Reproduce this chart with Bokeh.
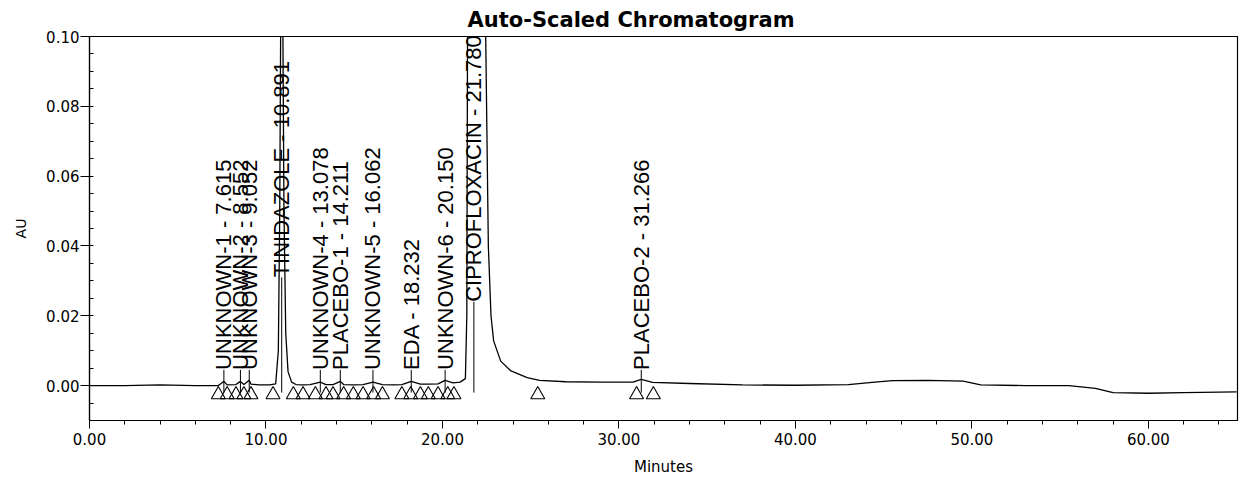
import math
from bokeh.plotting import figure
from bokeh.models import Range1d, FixedTicker, NumeralTickFormatter, ColumnDataSource
from bokeh.core.properties import value
from bokeh.embed import file_html
from bokeh.resources import INLINE

# ---- data ----
title_text = "Auto-Scaled Chromatogram"
x_label = "Minutes"
y_label = "AU"

x_ticks = [0, 10, 20, 30, 40, 50, 60]
y_ticks = [0.0, 0.02, 0.04, 0.06, 0.08, 0.10]

# chromatogram trace (minutes, AU); off-scale peaks exceed 0.10 and are clipped
trace_t = [0.0, 2.0, 4.0, 6.0, 7.3, 7.615, 7.8, 8.3, 8.552, 8.75, 9.052, 9.15, 9.6, 10.2,
           10.55, 10.7, 10.78, 10.83, 10.891, 10.96, 11.02, 11.12, 11.25, 11.45, 11.7,
           12.1, 12.5, 13.078, 13.4, 13.8, 14.211, 14.4, 15.0, 15.5, 16.062, 16.6, 17.2,
           17.7, 18.232, 18.75, 19.2, 19.75, 20.15, 20.6, 21.0, 21.3, 21.38, 21.42, 21.5,
           21.78, 22.2, 22.45, 22.6, 22.75, 22.9, 23.3, 23.85, 24.8, 25.5, 27.0, 29.0,
           30.8, 31.266, 31.9, 34.0, 37.0, 40.0, 43.0, 44.5, 45.5, 47.5, 49.5, 50.5,
           53.0, 55.5, 57.0, 58.0, 60.0, 62.0, 65.0]
trace_au = [0.0, 0.0, 0.0002, 0.0, 0.0, 0.0012, 0.0002, 0.0003, 0.0012, 0.0003, 0.0015,
            0.0004, 0.0002, 0.0002, 0.0005, 0.01, 0.05, 0.1, 0.3, 0.1, 0.05, 0.015, 0.004,
            0.001, 0.0003, 0.0002, 0.0003, 0.001, 0.0003, 0.0003, 0.0012, 0.0003, 0.0002,
            0.0003, 0.001, 0.0003, 0.0002, 0.0003, 0.0012, 0.0004, 0.0004, 0.0005, 0.0015,
            0.0008, 0.001, 0.002, 0.02, 0.1, 0.2, 0.4, 0.2, 0.1, 0.04, 0.02, 0.0128, 0.007,
            0.0043, 0.0023, 0.0015, 0.0011, 0.001, 0.001, 0.0018, 0.0009, 0.0006, 0.0002,
            0.0001, 0.0003, 0.001, 0.0014, 0.0015, 0.0013, 0.0002, 0.0, 0.0, -0.0008,
            -0.002, -0.0022, -0.002, -0.0018]

peak_names = ["UNKNOWN-1", "UNKNOWN-2", "UNKNOWN-3", "TINIDAZOLE", "UNKNOWN-4",
              "PLACEBO-1", "UNKNOWN-5", "EDA", "UNKNOWN-6", "CIPROFLOXACIN", "PLACEBO-2"]
peak_rt = [7.615, 8.552, 9.052, 10.891, 13.078, 14.211, 16.062, 18.232, 20.150, 21.780, 31.266]

# integration start / end markers (minutes)
marker_t = [7.3, 7.8, 8.3, 8.75, 9.15, 10.4, 11.55, 12.1, 12.8, 13.4, 13.8, 14.4, 14.95,
            15.5, 16.1, 16.6, 17.7, 18.2, 18.75, 19.2, 19.75, 20.3, 20.65, 25.4, 31.0, 31.95]

# ---- figure ----
p = figure(width=1239, height=481, x_range=Range1d(0, 65.05), y_range=Range1d(-0.01, 0.10),
           output_backend="svg", toolbar_location=None,
           min_border_left=89, min_border_right=2, min_border_top=34, min_border_bottom=61)

p.title.text = title_text
p.title.text_font = "DejaVu Sans"
p.title.text_font_size = "21px"
p.title.text_font_style = "bold"
p.title.text_color = "black"
p.title.align = "left"
p.title.offset = 378
p.title.standoff = 10

p.xgrid.visible = False
p.ygrid.visible = False
p.outline_line_color = "black"
p.outline_line_width = 1.2
p.background_fill_color = "white"
p.border_fill_color = "white"

xa = p.xaxis[0]
xa.ticker = FixedTicker(ticks=x_ticks, minor_ticks=[i * 2 for i in range(33)])
xa.formatter = NumeralTickFormatter(format="0.00")
xa.major_tick_out = 8
xa.major_tick_in = 0
xa.minor_tick_out = 4
xa.minor_tick_in = 0
xa.major_label_standoff = 4
xa.axis_label = x_label
xa.axis_label_standoff = 10
xa.axis_label_text_font = "DejaVu Sans"
xa.axis_label_text_font_size = "15px"
xa.axis_label_text_font_style = "normal"
xa.major_label_text_font = "DejaVu Sans"
xa.major_label_text_font_size = "15px"

ya = p.yaxis[0]
ya.ticker = FixedTicker(ticks=y_ticks, minor_ticks=[-0.01 + i * 0.005 for i in range(23)])
ya.formatter = NumeralTickFormatter(format="0.00")
ya.major_tick_out = 9
ya.major_tick_in = 0
ya.minor_tick_out = 0
ya.minor_tick_in = 4
ya.major_label_standoff = 1
ya.axis_label = y_label
ya.axis_label_standoff = 14
ya.axis_label_text_font = "DejaVu Sans"
ya.axis_label_text_font_size = "14px"
ya.axis_label_text_font_style = "normal"
ya.major_label_text_font = "DejaVu Sans"
ya.major_label_text_font_size = "15px"

for ax in (xa, ya):
    ax.axis_line_color = "black"
    ax.axis_line_width = 1.2
    ax.major_tick_line_color = "black"
    ax.minor_tick_line_color = "black"
    ax.major_label_text_color = "black"
    ax.axis_label_text_color = "black"

# trace
p.line(trace_t, trace_au, line_color="black", line_width=1.3)

# peak labels: small peaks labelled just above baseline; off-scale peaks higher up
label_base = []
for name in peak_names:
    if name == "TINIDAZOLE":
        label_base.append(0.031)
    elif name == "CIPROFLOXACIN":
        label_base.append(0.024)
    else:
        label_base.append(0.0045)
labels = [f"{n} - {rt:.3f}" for n, rt in zip(peak_names, peak_rt)]
src = ColumnDataSource(dict(x=peak_rt, y=label_base, text=labels,
                            y0=[-0.002] * len(peak_rt)))
p.segment(x0="x", y0="y0", x1="x", y1="y", source=src, line_color="black", line_width=1)
p.text(x="x", y="y", text="text", source=src, angle=math.pi / 2,
       text_align="left", text_baseline="middle", text_color="black",
       text_font=value("Liberation Sans"), text_font_size="22px")

# integration markers (open triangles hanging under the baseline)
p.scatter(marker_t, [-0.0026] * len(marker_t), marker="triangle", size=14,
          fill_color=None, line_color="black", line_width=1.1)

open("out.html", "w").write(file_html(p, INLINE))
